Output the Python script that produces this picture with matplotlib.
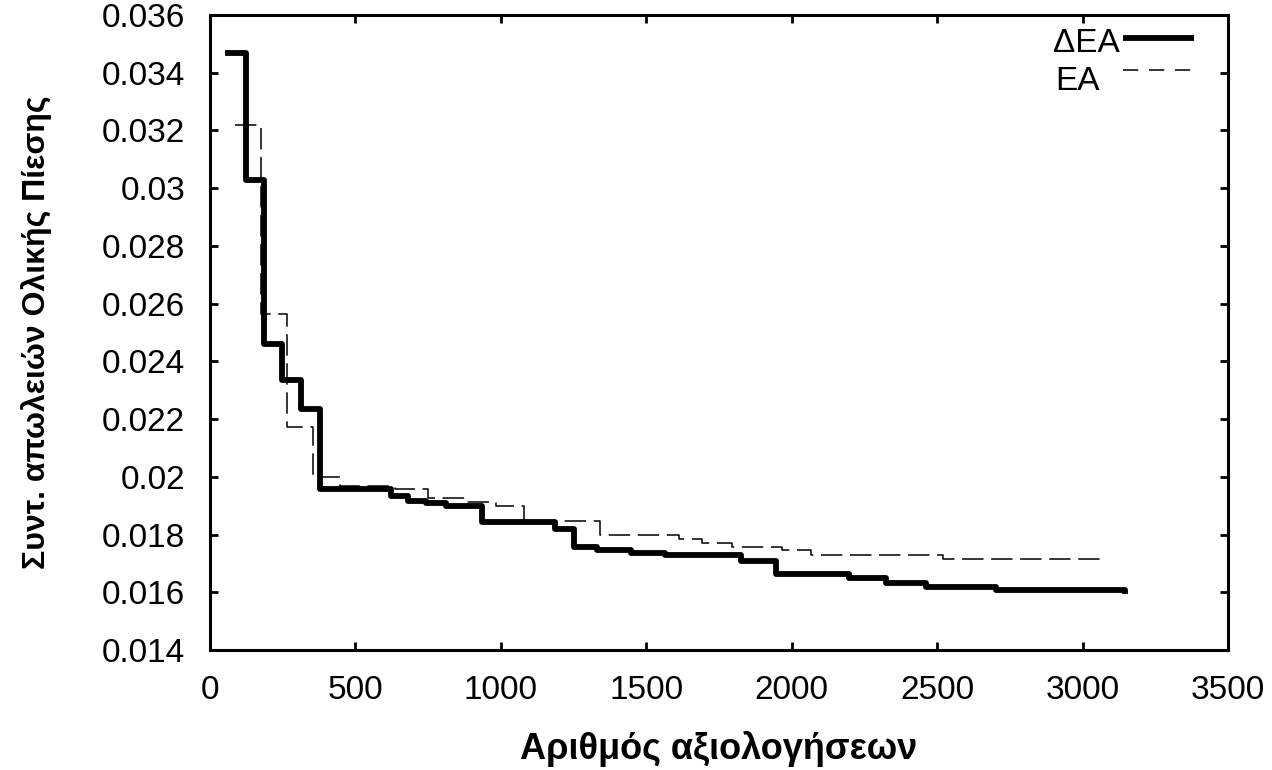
import numpy as np
import matplotlib
matplotlib.use("Agg")
import matplotlib.pyplot as plt

plt.rcParams['font.family'] = ['Liberation Sans', 'DejaVu Sans']

# step curves (x = evaluation count where the level starts)
dea_x = [62, 123, 185, 248, 312, 378, 624, 682, 744, 813, 935, 1187, 1250, 1330,
         1446, 1566, 1825, 1946, 2198, 2325, 2462, 2703, 3145]
dea_y = [0.0347, 0.0303, 0.0246, 0.02336, 0.02235, 0.01957, 0.01933, 0.01918,
         0.01910, 0.01899, 0.01845, 0.01818, 0.01756, 0.01747, 0.01735, 0.01729,
         0.01710, 0.01665, 0.01649, 0.01631, 0.01619, 0.01608, 0.01605]

ea_x = [85, 175, 266, 355, 447, 636, 751, 872, 985, 1080, 1342, 1612, 1691,
        1795, 1967, 2067, 2519, 3065]
ea_y = [0.0322, 0.02565, 0.02172, 0.0200, 0.01968, 0.01957, 0.01928, 0.01914,
        0.01898, 0.01846, 0.01799, 0.01784, 0.01772, 0.01756, 0.01747, 0.01730,
        0.01714, 0.01714]

x_ticks = [0, 500, 1000, 1500, 2000, 2500, 3000, 3500]
y_ticks = [0.014, 0.016, 0.018, 0.02, 0.022, 0.024, 0.026, 0.028, 0.03,
           0.032, 0.034, 0.036]
y_ticklabels = ['0.014', '0.016', '0.018', '0.02', '0.022', '0.024', '0.026',
                '0.028', '0.03', '0.032', '0.034', '0.036']

fig = plt.figure(figsize=(12.72, 7.7), dpi=100)
ax = fig.add_axes([0.1651, 0.1558, 0.8003, 0.8247])

ax.step(dea_x, dea_y, where='post', color='black', lw=4.2)
ax.step(ea_x, ea_y, where='post', color='black', lw=1.1, dashes=(14, 5))

ax.set_xlim(0, 3500)
ax.set_ylim(0.014, 0.036)
ax.set_xticks(x_ticks)
ax.set_yticks(y_ticks)
ax.set_yticklabels(y_ticklabels)
ax.tick_params(direction='in', top=True, right=True, length=6, width=2,
               labelsize=24, pad=18)
for s in ax.spines.values():
    s.set_linewidth(2.2)

ax.set_xlabel('Αριθμός αξιολογήσεων', fontsize=26, fontweight='bold', labelpad=18)
ax.set_ylabel('Συντ. απωλειών Ολικής Πίεσης', fontsize=23, fontweight='bold',
              labelpad=36)

# gnuplot-style key: label on the left (left-aligned), sample line on the right
tr = ax.transAxes
ax.text(0.828, 0.955, 'ΔΕΑ', transform=tr, fontsize=24, va='center', ha='left')
ax.plot([0.8969, 0.9666], [0.9638, 0.9638], transform=tr, color='black', lw=4.2,
        solid_capstyle='butt')
ax.text(0.830, 0.895, 'ΕΑ', transform=tr, fontsize=24, va='center', ha='left')
ax.plot([0.8969, 0.9666], [0.9134, 0.9134], transform=tr, color='black', lw=1.1,
        dashes=(10, 7))

fig.savefig('out.png', dpi=100)
